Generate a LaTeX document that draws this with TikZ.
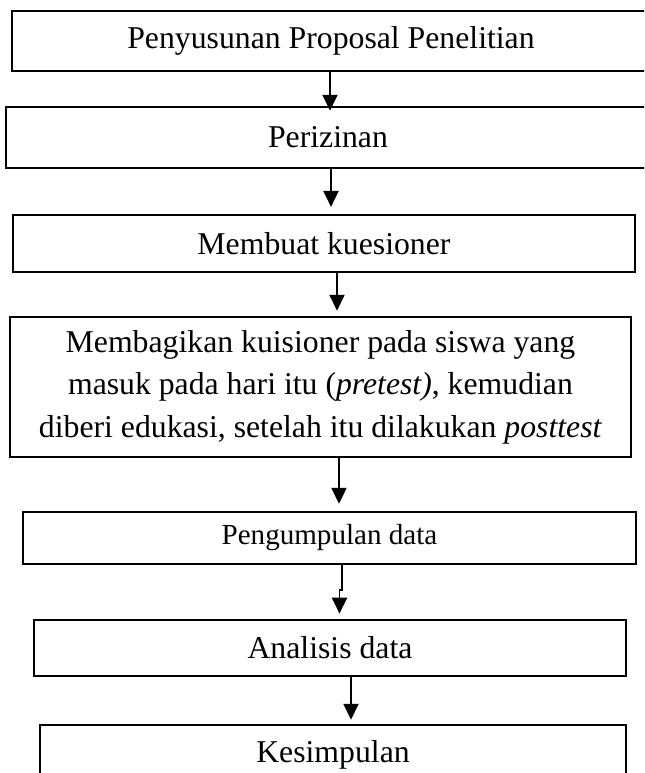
\documentclass[tikz,border=0pt]{standalone}
\usepackage{fontspec}
\setmainfont{Liberation Serif}
\usetikzlibrary{arrows.meta}
\begin{document}
\begin{tikzpicture}[x=0.378pt,y=-0.378pt,line width=1pt,
box/.style={draw,inner sep=0pt,align=center,font=\fontsize{12}{16.1}\selectfont},
flow/.style={line width=0.65pt,-{Triangle[width=5.7pt,length=6pt]}}]
\clip(0,0)rectangle(644,773);
\node[box,minimum width=241.2pt,minimum height=22.7pt](prop)at(331,41){Penyusunan Proposal Penelitian};
\node[box,minimum width=243.4pt,minimum height=23.1pt](izin)at(328,137.5){Perizinan};
\node[box,minimum width=235.1pt,minimum height=21.5pt](kues)at(324,243.5){Membuat kuesioner};
\node[box,minimum width=234.7pt,minimum height=52.9pt](bagi)at(320.5,387){Membagikan kuisioner pada siswa yang\\masuk pada hari itu (\textit{pretest)}, kemudian\\diberi edukasi, setelah itu dilakukan \textit{posttest}};
\node[box,minimum width=231.7pt,minimum height=19.7pt,font=\fontsize{11}{13}\selectfont](kumpul)at(329.5,538){Pengumpulan data};
\node[box,minimum width=223.8pt,minimum height=21.2pt](analisis)at(330,648){Analisis data};
\node[box,minimum width=221.5pt,minimum height=22.7pt](simpul)at(333,755){Kesimpulan};
\draw[flow,shorten >=-1.9pt](prop.south-|330,0)--(izin.north-|330,0);
\draw[flow,shorten >=2.6pt](izin.south-|331,0)--(kues.north-|331,0);
\draw[flow,shorten >=1.9pt](kues.south-|337,0)--(bagi.north-|337,0);
\draw[flow,shorten >=2.6pt](bagi.south-|339,0)--(kumpul.north-|339,0);
\draw[flow,shorten >=1.9pt](kumpul.south-|342,0)--(342,590)--(339.5,590)--(analisis.north-|339.5,0);
\draw[flow,shorten >=1.5pt](analisis.south-|351,0)--(simpul.north-|351,0);
\end{tikzpicture}
\end{document}
